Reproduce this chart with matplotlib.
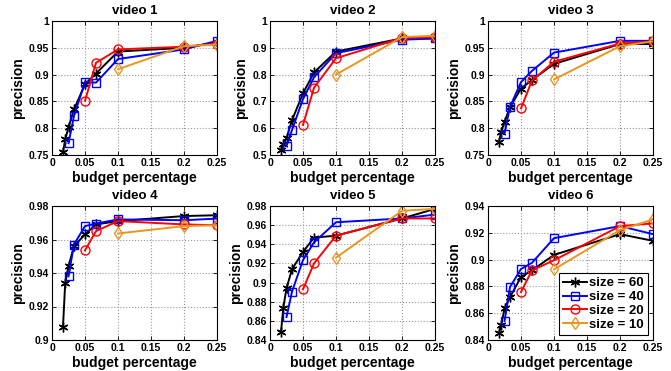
import matplotlib
matplotlib.use('Agg')
import matplotlib.pyplot as plt

# budget percentages (1/60 ... 1/4)
budget_60 = [1/60, 1/50, 1/40, 1/30, 1/20, 1/15, 1/10, 1/5, 1/4]
budget_40 = [1/40, 1/30, 1/20, 1/15, 1/10, 1/5, 1/4]
budget_20 = [1/20, 1/15, 1/10, 1/5, 1/4]
budget_10 = [1/10, 1/5, 1/4]

titles = ['video 1', 'video 2', 'video 3', 'video 4', 'video 5', 'video 6']

prec_60 = [
    [0.756, 0.779, 0.802, 0.835, 0.882, 0.902, 0.943, 0.950, 0.960],
    [0.520, 0.540, 0.562, 0.630, 0.730, 0.808, 0.886, 0.935, 0.935],
    [0.775, 0.793, 0.812, 0.839, 0.874, 0.890, 0.920, 0.957, 0.957],
    [0.908, 0.934, 0.944, 0.956, 0.963, 0.969, 0.971, 0.974, 0.9745],
    [0.848, 0.873, 0.894, 0.914, 0.932, 0.947, 0.949, 0.967, 0.977],
    [0.845, 0.851, 0.8636, 0.872, 0.887, 0.892, 0.9035, 0.919, 0.914],
]

prec_40 = [
    [0.772, 0.823, 0.886, 0.885, 0.929, 0.947, 0.963],
    [0.534, 0.593, 0.709, 0.790, 0.880, 0.930, 0.935],
    [0.790, 0.840, 0.886, 0.907, 0.941, 0.963, 0.963],
    [0.938, 0.957, 0.968, 0.9695, 0.972, 0.9715, 0.9725],
    [0.864, 0.8905, 0.9235, 0.942, 0.963, 0.967, 0.971],
    [0.854, 0.8795, 0.893, 0.8976, 0.916, 0.925, 0.919],
]

prec_20 = [
    [0.851, 0.922, 0.947, 0.952, 0.958],
    [0.612, 0.751, 0.861, 0.937, 0.940],
    [0.837, 0.889, 0.924, 0.958, 0.962],
    [0.9535, 0.965, 0.971, 0.969, 0.9685],
    [0.893, 0.920, 0.949, 0.967, 0.967],
    [0.8758, 0.892, 0.8995, 0.925, 0.927],
]

prec_10 = [
    [0.910, 0.953, 0.956],
    [0.800, 0.940, 0.945],
    [0.891, 0.953, 0.962],
    [0.9636, 0.968, 0.9685],
    [0.926, 0.975, 0.977],
    [0.8927, 0.922, 0.930],
]

ylims = [(0.75, 1), (0.5, 1), (0.75, 1), (0.9, 0.98), (0.84, 0.98), (0.84, 0.94)]
yticks = [
    [0.75, 0.8, 0.85, 0.9, 0.95, 1],
    [0.5, 0.6, 0.7, 0.8, 0.9, 1],
    [0.75, 0.8, 0.85, 0.9, 0.95, 1],
    [0.9, 0.92, 0.94, 0.96, 0.98],
    [0.84, 0.86, 0.88, 0.9, 0.92, 0.94, 0.96, 0.98],
    [0.84, 0.86, 0.88, 0.9, 0.92, 0.94],
]
xticks = [0, 0.05, 0.1, 0.15, 0.2, 0.25]

plt.rcParams['font.family'] = ['Liberation Sans', 'DejaVu Sans']
plt.rcParams['font.weight'] = 'bold'

fig = plt.figure(figsize=(6.71, 3.71), dpi=100)
W, H = 671.0, 371.0
lefts = [52, 270, 488]
tops = [21, 206]
aw, ah = 165, 134

asterisk = (6, 2, 0)
orange = '#E8961E'

for i in range(6):
    r, c = divmod(i, 3)
    ax = fig.add_axes([lefts[c] / W, 1 - (tops[r] + ah) / H, aw / W, ah / H])
    ax.plot(budget_60, prec_60[i], color='black', marker=asterisk, ms=7,
            lw=1.4, mew=1.0, label='size = 60')
    ax.plot(budget_40, prec_40[i], color='#0000FF', marker='s', ms=6,
            lw=1.4, mfc='none', mew=1.0, label='size = 40')
    ax.plot(budget_20, prec_20[i], color='#FF0000', marker='o', ms=6.5,
            lw=1.4, mfc='none', mew=1.0, label='size = 20')
    ax.plot(budget_10, prec_10[i], color=orange, marker='d', ms=6.5,
            lw=1.4, mfc='none', mew=1.0, label='size = 10')
    ax.set_xlim(0, 0.25)
    ax.set_ylim(*ylims[i])
    ax.set_xticks(xticks)
    ax.set_xticklabels(['0', '0.05', '0.1', '0.15', '0.2', '0.25'])
    ax.set_yticks(yticks[i])
    ax.set_yticklabels([('%g' % v) for v in yticks[i]])
    ax.tick_params(direction='in', labelsize=7.5, length=3, width=0.6, pad=2,
                   top=True, right=True)
    ax.grid(True, linestyle=':', color='#999999', lw=0.8)
    for sp in ax.spines.values():
        sp.set_linewidth(0.8)
    ax.set_title(titles[i], fontsize=9.5, fontweight='bold', pad=5)
    ax.set_xlabel('budget percentage', fontsize=10, fontweight='bold', labelpad=2)
    ax.set_ylabel('precision', fontsize=10, fontweight='bold', labelpad=3)
    if i == 5:
        leg = ax.legend(loc='lower right', fontsize=9.5, handlelength=1.8,
                        borderpad=0.3, labelspacing=0.12, handletextpad=0.15,
                        fancybox=False, framealpha=1, borderaxespad=0.4)
        leg.get_frame().set_edgecolor('black')
        leg.get_frame().set_linewidth(0.8)

fig.savefig('out.png', dpi=100)
